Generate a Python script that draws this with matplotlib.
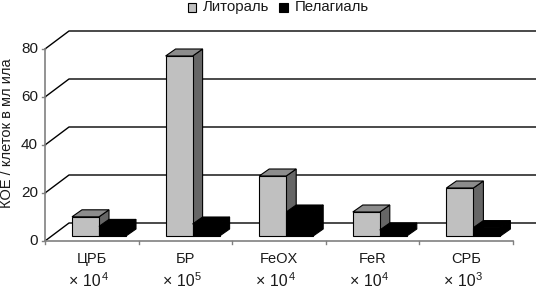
import matplotlib
matplotlib.use("Agg")
import matplotlib.pyplot as plt
from matplotlib.patches import Polygon, Rectangle

plt.rcParams['font.family'] = ['Liberation Sans', 'DejaVu Sans']

categories = ["ЦРБ", "БР", "FeOX", "FeR", "СРБ"]
exponents = ["4", "5", "4", "4", "3"]
litoral = [8, 75, 25, 10, 20]
pelagial = [4, 5, 10, 2.5, 3.5]
y_ticks = [0, 20, 40, 60, 80]

# сколько пикселей в одной единице по осям
PX_X = 93.6
PX_Y = 2.4
W, H = 536, 289
X0, Y0 = 45, 241
TEXT = '#1a1a1a'


def draw_bar(ax, x, value, color, side, top):
    # псевдо-3D столбик: передняя грань, бок и верх
    w = 27 / PX_X
    base = 5 / PX_Y
    dx = 10 / PX_X
    dy = 7 / PX_Y
    y1 = base + value
    ax.add_patch(Polygon([(x + w, base), (x + w + dx, base + dy), (x + w + dx, y1 + dy), (x + w, y1)],
                         fc=side, ec='black', lw=0.8, zorder=3))
    ax.add_patch(Polygon([(x, y1), (x + dx, y1 + dy), (x + w + dx, y1 + dy), (x + w, y1)],
                         fc=top, ec='black', lw=0.8, zorder=3))
    ax.add_patch(Rectangle((x, base), w, value, fc=color, ec='black', lw=0.8, zorder=3))


def main():
    fig = plt.figure(figsize=(W / 100, H / 100), dpi=100)
    ax = fig.add_axes([0, 0, 1, 1])
    ax.set_xlim(-X0 / PX_X, (W - X0) / PX_X)
    ax.set_ylim((Y0 - H) / PX_Y, Y0 / PX_Y)
    ax.axis('off')

    wall_dx = 24 / PX_X
    wall_dy = 18 / PX_Y

    # сетка на задней стенке и диагонали
    for t in y_ticks:
        ax.plot([0, wall_dx, (W - X0) / PX_X], [t, t + wall_dy, t + wall_dy], color='black', lw=1.0, zorder=1)
        ax.plot([-3 / PX_X, 0], [t, t], color='#808080', lw=1.0, zorder=2)
        ax.text(-7 / PX_X, t, str(t), ha='right', va='center', fontsize=11, color=TEXT)

    # оси
    ax.plot([0, 0], [0, y_ticks[-1]], color='#808080', lw=1.2, zorder=2)
    ax.plot([0, len(categories)], [0, 0], color='#808080', lw=1.2, zorder=2)
    for i in range(len(categories) + 1):
        ax.plot([i, i], [0, -3 / PX_Y], color='#808080', lw=1.0, zorder=2)

    # сначала Литораль, Пелагиаль рисуем поверх
    for i in range(len(categories)):
        draw_bar(ax, i + 27 / PX_X, litoral[i], '#c0c0c0', '#666666', '#8c8c8c')
    for i in range(len(categories)):
        draw_bar(ax, i + 54 / PX_X, pelagial[i], 'black', 'black', 'black')

    # подписи категорий и множители, степень отдельным текстом
    for i, (c, e) in enumerate(zip(categories, exponents)):
        ax.text(i + 0.5, -7.5, c, ha='center', va='center', fontsize=10.5, color=TEXT)
        ax.text(i + 0.5 + 9 / PX_X, -17, "× 10", ha='right', va='center', fontsize=11.5, color=TEXT)
        ax.text(i + 0.5 + 9.5 / PX_X, -15, e, ha='left', va='center', fontsize=8, color=TEXT)

    ax.text(-38 / PX_X, 45, "КОЕ / клеток в мл ила", rotation=90, ha='center', va='center',
            fontsize=10.5, color=TEXT)

    # легенда
    leg_y = (Y0 - 7) / PX_Y
    ax.add_patch(Rectangle(((187.5 - X0) / PX_X, leg_y - 4.5 / PX_Y), 8.5 / PX_X, 9 / PX_Y,
                           fc='#c0c0c0', ec='black', lw=0.8))
    ax.text((203 - X0) / PX_X, leg_y, "Литораль", ha='left', va='center', fontsize=10.8, color=TEXT)
    ax.add_patch(Rectangle(((279 - X0) / PX_X, leg_y - 4.5 / PX_Y), 9 / PX_X, 9 / PX_Y,
                           fc='black', ec='black', lw=0.8))
    ax.text((295 - X0) / PX_X, leg_y, "Пелагиаль", ha='left', va='center', fontsize=10.8, color=TEXT)

    fig.savefig("out.png", dpi=100)


if __name__ == "__main__":
    main()
